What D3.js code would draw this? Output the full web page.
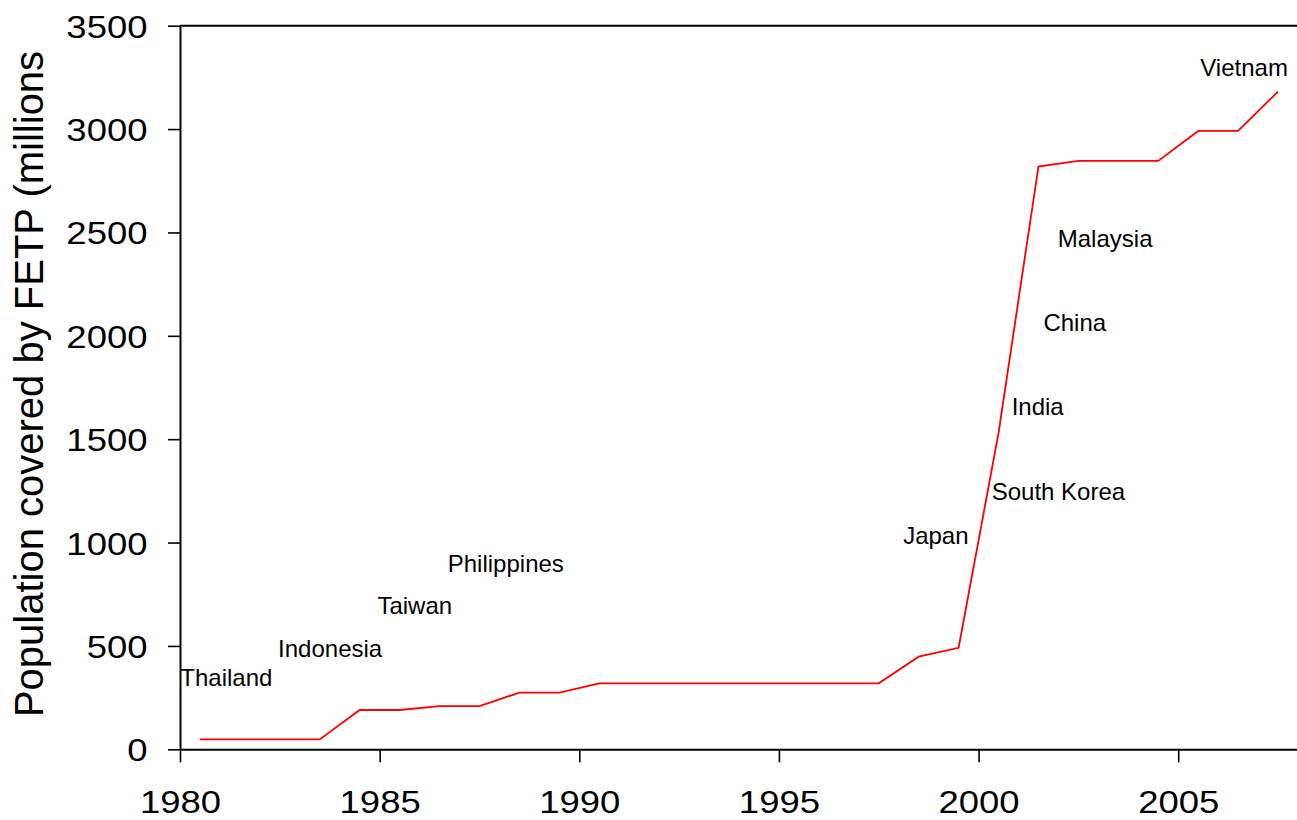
<!DOCTYPE html>
<html>
<head>
<meta charset="utf-8">
<script src="https://cdn.jsdelivr.net/npm/d3@7"></script>
<style>
  html, body { margin: 0; padding: 0; background: #fff; }
  svg { display: block; }
  text { font-family: "Liberation Sans", Arial, Helvetica, sans-serif; fill: #000; }
</style>
</head>
<body>
<svg id="chart" width="1297" height="820"></svg>
<script>
// ---- data ----
const years = [1980, 1981, 1982, 1983, 1984, 1985, 1986, 1987, 1988, 1989,
               1990, 1991, 1992, 1993, 1994, 1995, 1996, 1997, 1998, 1999,
               2000, 2001, 2002, 2003, 2004, 2005, 2006, 2007];
const population = [48, 48, 48, 48, 190, 190, 209, 209, 274, 274,
                    319, 319, 319, 319, 319, 319, 319, 319, 448, 491,
                    1530, 2819, 2846, 2846, 2846, 2991, 2991, 3181];
const countryNames = ["Thailand", "Indonesia", "Taiwan", "Philippines", "Japan",
                      "South Korea", "India", "China", "Malaysia", "Vietnam"];
const labelX = [1981.16, 1983.76, 1985.88, 1988.16, 1998.93,
                2002.0, 2001.48, 2002.41, 2003.17, 2006.65];
const labelY = [306, 448, 654, 859, 992, 1206, 1616, 2023, 2431, 3257];
const xTicks = [1980, 1985, 1990, 1995, 2000, 2005];
const yTicks = [0, 500, 1000, 1500, 2000, 2500, 3000, 3500];
const yTitle = "Population covered by FETP (millions";

// ---- layout ----
const svg = d3.select("#chart");
const x = d3.scaleLinear().domain([1980, 2008]).range([180, 1298]);
const y = d3.scaleLinear().domain([0, 3500]).range([749.3, 25.7]);

// top frame line
svg.append("line")
  .attr("x1", x(1980)).attr("x2", x(2008))
  .attr("y1", y(3500)).attr("y2", y(3500))
  .attr("stroke", "#000").attr("stroke-width", 2);

// x axis
const gx = svg.append("g")
  .attr("transform", `translate(0,${y(0)})`)
  .call(d3.axisBottom(x).tickValues(xTicks).tickFormat(d3.format("d"))
        .tickSize(13).tickSizeOuter(0));
gx.select(".domain").attr("stroke-width", 2);
gx.selectAll(".tick line").attr("stroke-width", 1.6);
gx.selectAll(".tick text")
  .attr("y", 0).attr("dy", 0)
  .attr("font-size", 32)
  .attr("transform", "translate(0,63.7) scale(1.14,1)")
  .style("font-family", "'Liberation Sans', Arial, sans-serif");

// y axis
const gy = svg.append("g")
  .attr("transform", `translate(${x(1980)},0)`)
  .call(d3.axisLeft(y).tickValues(yTicks).tickFormat(d3.format("d"))
        .tickSize(12).tickSizeOuter(0));
gy.select(".domain").attr("stroke-width", 2);
gy.selectAll(".tick line").attr("stroke-width", 1.6);
gy.selectAll(".tick text")
  .attr("x", 0).attr("dy", "0.36em")
  .attr("font-size", 32)
  .attr("text-anchor", "end")
  .attr("transform", "translate(-32.5,0) scale(1.14,1)")
  .style("font-family", "'Liberation Sans', Arial, sans-serif");

// y axis title
svg.append("text")
  .attr("transform", `translate(43,384) rotate(-90)`)
  .attr("text-anchor", "middle")
  .attr("font-size", 40)
  .text(yTitle);

// line
const pts = years.map((yr, i) => [yr + 0.5, population[i]]);
svg.append("path")
  .datum(pts)
  .attr("fill", "none")
  .attr("stroke", "#ff0000")
  .attr("stroke-width", 1.8)
  .attr("stroke-linejoin", "miter")
  .attr("d", d3.line().x(d => x(d[0])).y(d => y(d[1])));

// country labels
svg.append("g").selectAll("text")
  .data(countryNames)
  .join("text")
  .attr("x", (d, i) => x(labelX[i]))
  .attr("y", (d, i) => y(labelY[i]))
  .attr("text-anchor", "middle")
  .attr("font-size", 24)
  .text(d => d);
</script>
</body>
</html>
